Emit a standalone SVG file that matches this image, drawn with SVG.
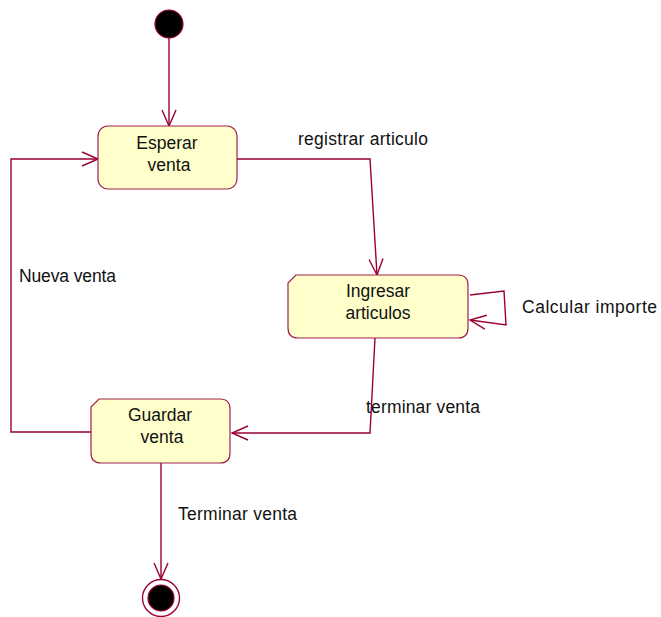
<svg xmlns="http://www.w3.org/2000/svg" width="661" height="617" viewBox="0 0 661 617">
  <style>
    .state { fill: #ffffcc; stroke: #a0204a; stroke-width: 1.2; }
    .edge { fill: none; stroke: #990033; stroke-width: 1.4; }
    .lbl { font-family: "Liberation Sans", Arial, sans-serif; font-size: 17.5px; fill: #111; }
    .mid { text-anchor: middle; }
  </style>
  <defs>
    <marker id="open" viewBox="0 0 20 20" refX="18" refY="10" markerWidth="20" markerHeight="20" markerUnits="userSpaceOnUse" orient="auto">
      <path d="M2,3 L18,10 L2,17" fill="none" stroke="#990033" stroke-width="1.4"/>
    </marker>
  </defs>
  <rect width="661" height="617" fill="#ffffff"/>

  <g id="connectors">
    <path class="edge" d="M169,38 L169,126" marker-end="url(#open)"/>
    <path class="edge" d="M237,159 L370,159 L377,275" marker-end="url(#open)"/>
    <path class="edge" d="M470,295 L504,291 L506,325 L470,320" marker-end="url(#open)"/>
    <path class="edge" d="M375,338 L370,433 L232,433" marker-end="url(#open)"/>
    <path class="edge" d="M91,432 L11,432 L11,159 L98,159" marker-end="url(#open)"/>
    <path class="edge" d="M161,463 L161,579" marker-end="url(#open)"/>
  </g>

  <g id="initial">
    <circle cx="169" cy="24" r="14" fill="#000" stroke="#990033" stroke-width="1.2"/>
  </g>

  <g id="esperar-venta">
    <rect class="state" x="98" y="126" width="139" height="63" rx="10"/>
    <text class="lbl mid" x="167" y="149">Esperar</text>
    <text class="lbl mid" x="169" y="171">venta</text>
  </g>

  <g id="ingresar-articulos">
    <path class="state" d="M296,275 L458,275 Q468,275 468,285 L468,328 Q468,338 458,338 L298,338 Q288,338 288,328 L288,283 Z"/>
    <text class="lbl mid" x="378" y="297">Ingresar</text>
    <text class="lbl mid" x="378" y="319">articulos</text>
  </g>

  <g id="guardar-venta">
    <path class="state" d="M99,399 L220,399 Q230,399 230,409 L230,453 Q230,463 220,463 L101,463 Q91,463 91,453 L91,407 Z"/>
    <text class="lbl mid" x="160" y="421">Guardar</text>
    <text class="lbl mid" x="162" y="443">venta</text>
  </g>

  <g id="final">
    <circle cx="161" cy="598" r="18.5" fill="#fff" stroke="#990033" stroke-width="1.4"/>
    <circle cx="161" cy="598" r="13" fill="#000" stroke="#990033" stroke-width="1.2"/>
  </g>

  <g id="labels">
    <text class="lbl" x="298" y="145" textLength="130" lengthAdjust="spacing">registrar articulo</text>
    <text class="lbl" x="522" y="313" textLength="135" lengthAdjust="spacing">Calcular importe</text>
    <text class="lbl" x="366" y="413" textLength="114" lengthAdjust="spacing">terminar venta</text>
    <text class="lbl" x="19" y="282" textLength="97" lengthAdjust="spacing">Nueva venta</text>
    <text class="lbl" x="178" y="520" textLength="119" lengthAdjust="spacing">Terminar venta</text>
  </g>
</svg>
